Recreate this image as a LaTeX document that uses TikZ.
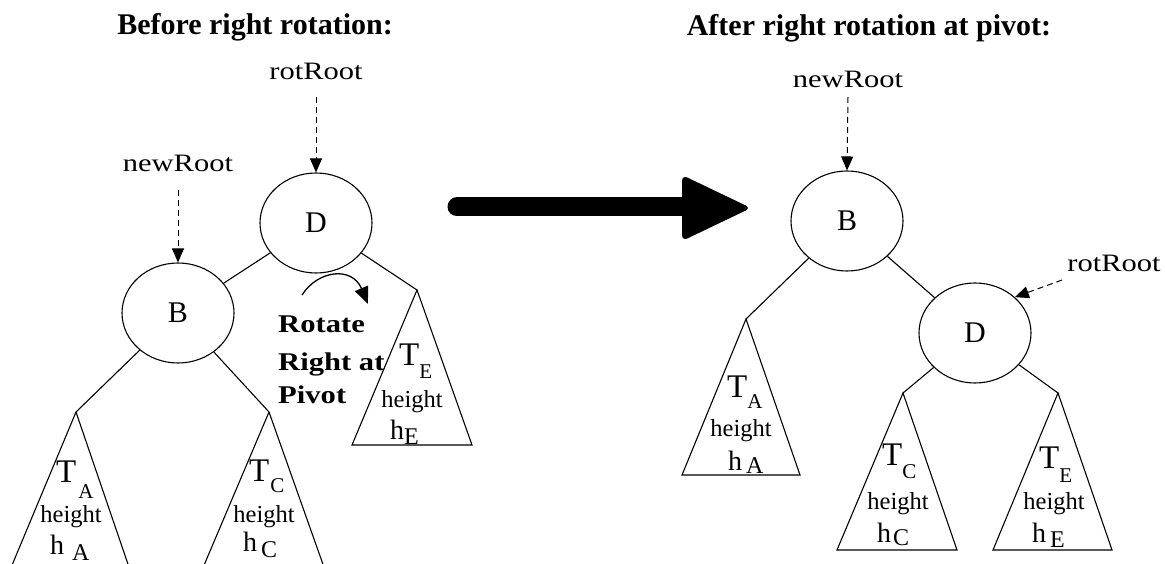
\documentclass[tikz,border=0pt]{standalone}
\usepackage{fontspec}
\setmainfont{Liberation Serif}
\usetikzlibrary{arrows.meta,shapes.geometric}
\newcommand{\fs}[1]{\fontsize{#1}{#1}\selectfont}
\newcommand{\wid}[1]{\scalebox{1.22}[1]{#1}}
\newcommand{\Tlab}[3]{{\fs{33}T}\kern#3pt\raisebox{-#2pt}{\fs{21}#1}}
\newcommand{\hlab}[3]{{\fs{28}h}\kern#3pt\raisebox{-#2pt}{\fs{24}#1}}
\begin{document}
\begin{tikzpicture}[x=1pt,y=-1pt,
  treenode/.style={draw, ellipse, minimum width=112pt, minimum height=100pt, inner sep=0pt, font=\fs{30}, line width=1.1pt},
  edge/.style={line width=1.1pt},
  subtree/.style={line width=1.1pt, line join=miter},
  ptr/.style={line width=1pt, dash pattern=on 6pt off 4pt, -{Triangle[length=14pt,width=12pt]}},
  ptrlabel/.style={font=\fs{25}, inner sep=0pt, anchor=base},
  lab/.style={inner sep=0pt, anchor=base west},
  hgt/.style={inner sep=0pt, anchor=base, font=\fs{24.5}},
  title/.style={inner sep=0pt, anchor=base, font=\fs{30}\bfseries},
  rot/.style={inner sep=0pt, anchor=base west, font=\fs{25.5}\bfseries}
]
\useasboundingbox (0,0) rectangle (1165,564);
\clip (0,0) rectangle (1165,564);

% titles
\node[title] (t1) at (255,35) {Before right rotation:};
\node[title] (t2) at (869,36) {After right rotation at pivot:};

% ---------- before ----------
\node[treenode] (D1) at (316,223) {D};
\node[treenode] (B1) at (178,313) {B};
\node[ptrlabel] (rr1) at (316,80) {\wid{rotRoot}};
\node[ptrlabel] (nr1) at (178,172) {\wid{newRoot}};
\coordinate (rr1s) at (316,97);
\coordinate (nr1s) at (178,190);
\draw[ptr] (rr1s) -- (D1.north);
\draw[ptr] (nr1s) -- (B1.north);

\coordinate (ta1) at (76,412);
\coordinate (tc1) at (269,412);
\coordinate (te1) at (417,290);
\draw[edge] (D1) -- (B1);
\draw[edge] (D1) -- (te1);
\draw[edge] (B1) -- (ta1);
\draw[edge] (B1) -- (tc1);
\draw[subtree] (ta1) -- (10,570);
\draw[subtree] (ta1) -- (130,570);
\draw[subtree] (tc1) -- (202,570);
\draw[subtree] (tc1) -- (325,570);
\draw[subtree] (te1) -- (352,445) -- (472,445) -- cycle;

\node[lab] (ta1T) at (56,482) {\Tlab{A}{16}{2}};
\node[hgt] (ta1h) at (71,522) {height};
\node[lab] (ta1v) at (50,554) {\hlab{A}{6}{8}};
\node[lab] (tc1T) at (249,481) {\Tlab{C}{11}{1}};
\node[hgt] (tc1h) at (264,522) {height};
\node[lab] (tc1v) at (243,551) {\hlab{C}{6}{4}};
\node[lab] (te1T) at (399,365) {\Tlab{E}{13}{0}};
\node[hgt] (te1h) at (412,407) {height};
\node[lab] (te1v) at (390,439) {\hlab{E}{5}{0}};

\coordinate (cas) at (302,295);
\coordinate (cae) at (368,304);
\draw[line width=1.3pt, -{Triangle[length=17pt,width=14pt]}] (cas) .. controls (318,270) and (352,266) .. (cae);
\node[rot] (r1) at (278,332) {\scalebox{1.2}[1]{Rotate}};
\node[rot] (r2) at (278,370) {\scalebox{1.2}[1]{Right at}};
\node[rot] (r3) at (278,403) {\scalebox{1.2}[1]{Pivot}};

% ---------- big arrow ----------
\coordinate (bs) at (457,207);
\coordinate (be) at (690,207);
\draw[line width=19pt, line cap=round] (bs) -- (be);
\fill[rounded corners=6pt] (682,175) -- (751,208) -- (682,241) -- cycle;

% ---------- after ----------
\node[treenode] (B2) at (847,221) {B};
\node[treenode] (D2) at (975,333) {D};
\node[ptrlabel] (nr2) at (848,88) {\wid{newRoot}};
\node[ptrlabel] (rr2) at (1114,272) {\wid{rotRoot}};
\coordinate (nr2s) at (848,97);
\coordinate (rr2s) at (1062,280);
\draw[ptr] (nr2s) -- (B2.north);
\draw[ptr] (rr2s) -- (D2.42);

\coordinate (ta2) at (746,319);
\coordinate (tc2) at (903,393);
\coordinate (te2) at (1058,393);
\draw[edge] (B2) -- (ta2);
\draw[edge] (B2) -- (D2);
\draw[edge] (D2) -- (tc2);
\draw[edge] (D2) -- (te2);
\draw[subtree] (ta2) -- (682,475) -- (800,475) -- cycle;
\draw[subtree] (tc2) -- (837,550) -- (957,550) -- cycle;
\draw[subtree] (te2) -- (993,550) -- (1112,550) -- cycle;

\node[lab] (ta2T) at (727,397) {\Tlab{A}{11}{0}};
\node[hgt] (ta2h) at (741,436) {height};
\node[lab] (ta2v) at (728,470) {\hlab{A}{3}{4}};
\node[lab] (tc2T) at (882,465) {\Tlab{C}{13}{0}};
\node[hgt] (tc2h) at (898,509) {height};
\node[lab] (tc2v) at (877,542) {\hlab{C}{3}{2}};
\node[lab] (te2T) at (1039,468) {\Tlab{E}{14}{0}};
\node[hgt] (te2h) at (1054,509) {height};
\node[lab] (te2v) at (1032,542) {\hlab{E}{5}{4}};
\end{tikzpicture}
\end{document}
